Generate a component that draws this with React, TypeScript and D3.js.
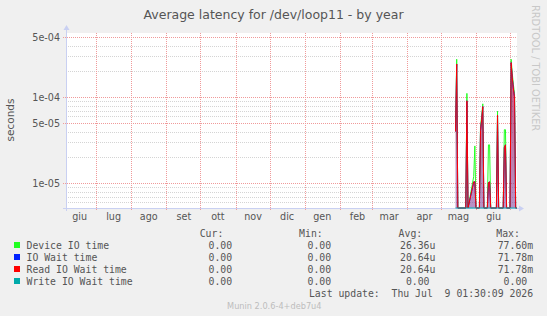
import * as d3 from 'd3';

// samples (daily consolidation); zero means "nothing measured" and sits on the floor of the log axis
const sampleDays = [
  '2026-05-14', '2026-05-15', '2026-05-16', '2026-05-23', '2026-05-24', '2026-05-25',
  '2026-05-30', '2026-05-31', '2026-06-01', '2026-06-04', '2026-06-05', '2026-06-06',
  '2026-06-07', '2026-06-08', '2026-06-11', '2026-06-12', '2026-06-13', '2026-06-14',
  '2026-06-19', '2026-06-20', '2026-06-21', '2026-06-25', '2026-06-26', '2026-06-27',
  '2026-06-28', '2026-07-01', '2026-07-02', '2026-07-03', '2026-07-04', '2026-07-05',
  '2026-07-06', '2026-07-07',
];
const deviceIO = [
  4.5e-5, 2.77e-4, 0, 0, 1.11e-4, 0,
  1.2e-5, 2.72e-5, 0, 0, 4.6e-5, 6.0e-5,
  8.4e-5, 0, 0, 2.8e-5, 2.8e-5, 0,
  0, 6.9e-5, 0, 0, 4.2e-5, 4.2e-5,
  0, 0, 2.77e-4, 1.9e-4, 1.4e-4, 1.1e-4,
  0, 0,
];
const ioWait = [
  4.0e-5, 2.44e-4, 0, 0, 9.1e-5, 0,
  1.04e-5, 1.04e-5, 0, 0, 4.1e-5, 5.5e-5,
  7.8e-5, 0, 0, 1.02e-5, 1.04e-5, 0,
  0, 6.2e-5, 0, 0, 2.6e-5, 2.8e-5,
  0, 0, 2.53e-4, 1.7e-4, 1.25e-4, 1.0e-4,
  0, 0,
];
const readIOWait = [
  4.0e-5, 2.44e-4, 0, 0, 9.1e-5, 0,
  1.04e-5, 1.04e-5, 0, 0, 4.1e-5, 5.5e-5,
  7.8e-5, 0, 0, 1.02e-5, 1.04e-5, 0,
  0, 6.2e-5, 0, 0, 2.6e-5, 2.8e-5,
  0, 0, 2.53e-4, 1.7e-4, 1.25e-4, 1.0e-4,
  0, 0,
];
const writeIOWait = [
  0, 0, 0, 0, 0, 0,
  0, 0, 0, 0, 0, 0,
  0, 0, 0, 0, 0, 0,
  0, 0, 0, 0, 0, 0,
  0, 0, 0, 0, 0, 0,
  0, 0,
];

const monthLabels = ['giu', 'lug', 'ago', 'set', 'ott', 'nov', 'dic', 'gen', 'feb', 'mar', 'apr', 'mag', 'giu'];
const yTickValues = [1e-5, 5e-5, 1e-4, 5e-4];
const yTickLabels = ['1e-05', '5e-05', '1e-04', '5e-04'];

const seriesNames = ['Device IO time', 'IO Wait time', 'Read IO Wait time', 'Write IO Wait time'];
const seriesColors = ['#22ff22', '#0022ff', '#ff0000', '#00aaaa'];
const curValues = ['0.00 ', '0.00 ', '0.00 ', '0.00 '];
const minValues = ['0.00 ', '0.00 ', '0.00 ', '0.00 '];
const avgValues = ['26.36u', '20.64u', '20.64u', '0.00 '];
const maxValues = ['77.60m', '71.78m', '71.78m', '0.00 '];

const W = 547;
const H = 316;
const plot = { left: 66, right: 517, top: 33, bottom: 208 };
const axisColor = '#c9d0f2';
const textColor = '#555';
const mono = '"DejaVu Sans Mono", monospace';
const sans = '"DejaVu Sans", sans-serif';

const parseDay = d3.timeParse('%Y-%m-%d');

export default function App() {
  const x = d3
    .scaleTime()
    .domain([new Date(2025, 5, 4, 13), new Date(2026, 6, 7, 4)])
    .range([plot.left, plot.right]);
  const y = d3.scaleLog().domain([5.162e-6, 5.594e-4]).range([plot.bottom, plot.top]).clamp(true);
  const floor = y.domain()[0];

  const dates = sampleDays.map((d) => parseDay(d) as Date);
  const series = [deviceIO, ioWait, readIOWait, writeIOWait];

  const line = d3
    .line<number>()
    .x((_, i) => x(dates[i]))
    .y((v) => y(v > 0 ? v : floor));
  const area = d3
    .area<number>()
    .x((_, i) => x(dates[i]))
    .y0(plot.bottom)
    .y1((v) => y(v > 0 ? v : floor));

  const monthTicks = x.ticks(d3.timeMonth.every(1)!);
  const monthStarts = d3.timeMonth.range(new Date(2025, 5, 1), new Date(2026, 6, 1));
  const minorTicks = y.ticks().filter((t) => !yTickValues.some((v) => Math.abs(v - t) / v < 1e-6));

  const rowY = (i: number) => 248.6 + i * 12;

  return (
    <svg width={W} height={H} style={{ display: 'block', position: 'absolute', left: 0, top: 0 }}>
      <defs>
        <linearGradient id="spike" x1="0" y1="0" x2="0" y2="1">
          <stop offset="0%" stopColor="#c0003a" stopOpacity={0.7} />
          <stop offset="100%" stopColor="#7a3a9a" stopOpacity={0.55} />
        </linearGradient>
      </defs>
      <rect width={W} height={H} fill="#f0f0f0" />
      <rect x={plot.left} y={plot.top} width={plot.right - plot.left} height={plot.bottom - plot.top} fill="#fff" />

      <text x={W / 2} y={18.5} textAnchor="middle" fontFamily={sans} fontSize={12.5} fill={textColor}>
        Average latency for /dev/loop11 - by year
      </text>
      <text
        transform={`translate(535,5) rotate(90)`}
        fontFamily={sans}
        fontSize={9.8}
        fill="#c8c8c8"
        dominantBaseline="middle"
      >
        RRDTOOL / TOBI OETIKER
      </text>
      <text
        transform={`translate(14,120) rotate(-90)`}
        textAnchor="middle"
        fontFamily={sans}
        fontSize={10.5}
        fill={textColor}
      >
        seconds
      </text>

      {/* minor grid */}
      {minorTicks.map((t) => (
        <line
          key={`mi-${t}`}
          x1={plot.left}
          x2={plot.right}
          y1={Math.round(y(t)) + 0.5}
          y2={Math.round(y(t)) + 0.5}
          stroke="#d4d4d4"
          strokeDasharray="1,1"
        />
      ))}
      {/* major grid */}
      {yTickValues.map((t, i) => (
        <g key={`ma-${t}`}>
          <line
            x1={plot.left - 3}
            x2={plot.right}
            y1={Math.round(y(t)) + 0.5}
            y2={Math.round(y(t)) + 0.5}
            stroke="#f09a9a"
            strokeDasharray="1,1"
          />
          <text
            x={60}
            y={y(t)}
            dy="0.35em"
            textAnchor="end"
            fontFamily={sans}
            fontSize={9.6}
            fill={textColor}
          >
            {yTickLabels[i]}
          </text>
        </g>
      ))}
      {monthTicks.map((t) => (
        <line
          key={`mt-${+t}`}
          x1={Math.round(x(t)) + 0.5}
          x2={Math.round(x(t)) + 0.5}
          y1={plot.top}
          y2={plot.bottom + 3}
          stroke="#f09a9a"
          strokeDasharray="1,1"
        />
      ))}
      {monthStarts.map((m, i) => (
        <text
          key={`ml-${+m}`}
          x={x(new Date(m.getFullYear(), m.getMonth(), 16, 12))}
          y={220}
          textAnchor="middle"
          fontFamily={sans}
          fontSize={9.6}
          fill={textColor}
        >
          {monthLabels[i]}
        </text>
      ))}

      {/* axes */}
      <line x1={plot.left + 0.5} x2={plot.left + 0.5} y1={plot.bottom + 3} y2={plot.top - 4} stroke={axisColor} />
      <path d={`M${plot.left - 2.5},${plot.top - 3} L${plot.left + 3.5},${plot.top - 3} L${plot.left + 0.5},${plot.top - 8} Z`} fill={axisColor} />
      <line x1={plot.left - 3} x2={plot.right + 3} y1={plot.bottom + 0.5} y2={plot.bottom + 0.5} stroke={axisColor} />
      <path d={`M${plot.right + 2},${plot.bottom - 2.5} L${plot.right + 2},${plot.bottom + 3.5} L${plot.right + 7},${plot.bottom + 0.5} Z`} fill={axisColor} />

      {/* data */}
      <path d={area(readIOWait) ?? ''} fill="url(#spike)" />
      {series.map((s, i) => (
        <path key={seriesNames[i]} d={line(s) ?? ''} fill="none" stroke={seriesColors[i]} strokeWidth={1} />
      ))}

      {/* legend */}
      <g fontFamily={mono} fontSize={9.8} fill={textColor}>
        <text x={223.3} y={236.6} textAnchor="end">Cur:</text>
        <text x={322.7} y={236.6} textAnchor="end">Min:</text>
        <text x={422.2} y={236.6} textAnchor="end">Avg:</text>
        <text x={519.9} y={236.6} textAnchor="end">Max:</text>
        {seriesNames.map((name, i) => (
          <g key={`lg-${name}`}>
            <rect x={14} y={rowY(i) - 6.6} width={6} height={6} fill={seriesColors[i]} />
            <text x={26.5} y={rowY(i)}>{name}</text>
            <text x={238} y={rowY(i)} textAnchor="end" xmlSpace="preserve">{curValues[i]}</text>
            <text x={337} y={rowY(i)} textAnchor="end" xmlSpace="preserve">{minValues[i]}</text>
            <text x={435.4} y={rowY(i)} textAnchor="end" xmlSpace="preserve">{avgValues[i]}</text>
            <text x={533.1} y={rowY(i)} textAnchor="end" xmlSpace="preserve">{maxValues[i]}</text>
          </g>
        ))}
        <text x={533.1} y={296.6} textAnchor="end" xmlSpace="preserve">Last update:  Thu Jul  9 01:30:09 2026</text>
      </g>
      <text x={274.3} y={308.5} textAnchor="middle" fontFamily={sans} fontSize={8.2} fill="#bdbdbd">
        Munin 2.0.6-4+deb7u4
      </text>
    </svg>
  );
}
